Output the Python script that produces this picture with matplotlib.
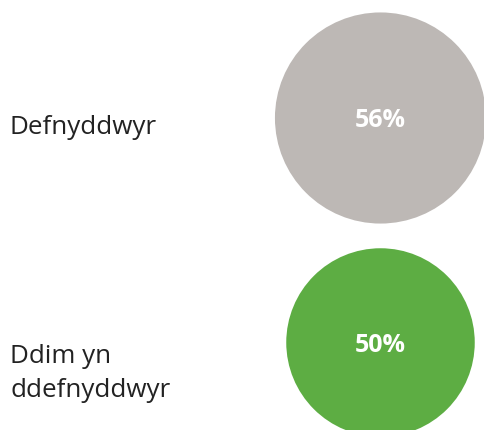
import matplotlib
matplotlib.use("Agg")
import matplotlib.pyplot as plt
from matplotlib.patches import Circle

categories = ["Defnyddwyr", "Ddim yn\nddefnyddwyr"]
values = [56, 50]
colors = ["#bdb8b5", "#5dad43"]

W, H, DPI = 484, 430, 100
fig = plt.figure(figsize=(W / DPI, H / DPI), dpi=DPI)
fig.patch.set_facecolor("white")
ax = fig.add_axes([0, 0, 1, 1])
ax.set_xlim(0, W)
ax.set_ylim(H, 0)
ax.set_aspect("equal")
ax.axis("off")

px2pt = 72 / DPI
font = "Open Sans"
cx = 380.5
centers_y = [118, 342.5]
scale = 1.885  # radius px per percentage point
label_baselines = [134, 397]

for cat, v, c, cy, bl in zip(categories, values, colors, centers_y, label_baselines):
    ax.add_patch(Circle((cx, cy), v * scale, facecolor=c, edgecolor="none"))
    ax.text(cx, cy + 2.5, f"{v}%", ha="center", va="center", color="white",
            fontsize=25 * px2pt, fontweight="bold", family=font)
    ax.text(10, bl, cat, ha="left", va="baseline", color="#222222",
            fontsize=26 * px2pt, family=font, linespacing=1.45)

fig.savefig("out.png", dpi=DPI, facecolor="white")
